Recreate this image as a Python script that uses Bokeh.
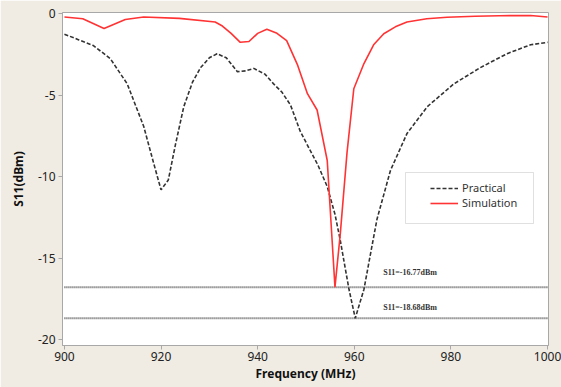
from bokeh.plotting import figure
from bokeh.models import (Legend, LegendItem, Range1d, FixedTicker, PrintfTickFormatter,
                          BoxAnnotation)
from bokeh.core.properties import value
from bokeh.embed import file_html
from bokeh.resources import INLINE

# Data
freq_practical = [900, 903, 906, 909.5, 913, 916.4, 918.5, 920, 921.5, 923, 924.7, 926.5,
                  928.2, 930, 931.6, 933.5, 935.8, 937.5, 939.2, 941.5, 943.3, 945, 946.8,
                  948.8, 950.9, 952.5, 954.4, 956, 957.1, 958.9, 960.2, 962, 963.5, 964.7,
                  967.5, 970.9, 975.1, 980.6, 986.1, 991.6, 996.5, 1000]
s11_practical = [-1.25, -1.6, -1.95, -2.75, -4.3, -6.9, -9.2, -10.8, -10.2, -8.0, -5.7, -4.2,
                 -3.3, -2.7, -2.45, -2.7, -3.55, -3.5, -3.35, -3.7, -4.3, -4.8, -5.6,
                 -7.2, -8.4, -9.3, -10.6, -12.3, -13.9, -16.9, -18.68, -16.9, -14.5, -12.6,
                 -9.6, -7.35, -5.7, -4.3, -3.3, -2.45, -1.9, -1.75]

freq_sim = [900, 903.8, 908.2, 912.6, 916.4, 923.8, 931.2, 932.7, 934.5, 936.4, 938.2, 940,
            941.9, 944, 946, 948.2, 950.3, 952.3, 954.4, 956, 957.1, 958.5, 959.9, 962, 964,
            966.1, 968.5, 970.9, 975, 979.2, 985, 990, 996.5, 1000]
s11_sim = [-0.2, -0.3, -0.9, -0.35, -0.2, -0.28, -0.5, -0.75, -1.2, -1.75, -1.7, -1.2,
           -0.95, -1.2, -1.65, -3.1, -4.9, -5.9, -9.0, -16.77, -13.5, -8.5, -4.6, -3.05, -1.9,
           -1.22, -0.8, -0.5, -0.3, -0.21, -0.15, -0.12, -0.1, -0.2]

min_levels = [-16.77, -18.68]
min_labels = ["S11=-16.77dBm", "S11=-18.68dBm"]
label_freq = [966, 966]
label_s11 = [-15.9, -18.0]

x_ticks = [900, 920, 940, 960, 980, 1000]
y_ticks = [0, -5, -10, -15, -20]

p = figure(width=561, height=387, output_backend="svg", toolbar_location=None,
           x_range=Range1d(899.6, 1000.2), y_range=Range1d(-20.35, 0.08),
           min_border_left=62, min_border_right=13, min_border_top=12, min_border_bottom=42)
p.background_fill_color = "white"
p.border_fill_color = "#f0ece3"
p.outline_line_color = "#a8a8a8"
p.grid.visible = False

font = "Noto Sans"
for ax in (p.xaxis[0], p.yaxis[0]):
    ax.axis_line_color = "#a8a8a8"
    ax.major_tick_line_color = "#a8a8a8"
    ax.major_tick_out = 4
    ax.major_tick_in = 0
    ax.minor_tick_line_color = None
    ax.major_label_text_font = font
    ax.major_label_text_font_size = "12px"
    ax.major_label_text_color = "#222222"
    ax.axis_label_text_font = font
    ax.axis_label_text_font_size = "12px"
    ax.axis_label_text_font_style = "bold"
    ax.axis_label_text_color = "#111111"
    ax.formatter = PrintfTickFormatter(format="%d")

p.xaxis.ticker = FixedTicker(ticks=x_ticks)
p.yaxis.ticker = FixedTicker(ticks=y_ticks)
p.xaxis.axis_label = "Frequency (MHz)"
p.yaxis.axis_label = "S11(dBm)"
p.xaxis.major_label_standoff = 2
p.yaxis.major_label_standoff = 3
p.xaxis.axis_label_standoff = 1
p.yaxis.axis_label_standoff = 8

# Minimum level dotted lines
for lvl in min_levels:
    p.line([x_ticks[0], x_ticks[-1]], [lvl, lvl], line_color="#555555", line_width=2,
           line_dash="1 1")

p.text(x=label_freq, y=label_s11, text=min_labels, text_font=value("Liberation Serif"),
       text_font_style="bold", text_font_size="8px", text_color="#333333",
       text_baseline="middle", text_align="left")

r_prac = p.line(freq_practical, s11_practical, line_color="#333333", line_width=1.6,
                line_dash="4 2")
r_sim = p.line(freq_sim, s11_sim, line_color="#ff3333", line_width=1.6)

# legend frame (screen units relative to the plot frame, y upward)
box = BoxAnnotation(left=343, right=471, top=173, bottom=122,
                    left_units="screen", right_units="screen",
                    top_units="screen", bottom_units="screen",
                    fill_color="white", fill_alpha=1,
                    line_color="#999999", line_width=1)
p.add_layout(box)

legend = Legend(items=[LegendItem(label="Practical", renderers=[r_prac]),
                       LegendItem(label="Simulation", renderers=[r_sim])],
                location=(368, 135))
legend.label_text_font = font
legend.label_text_font_size = "11px"
legend.label_text_color = "#333333"
legend.glyph_width = 28
legend.glyph_height = 14
legend.label_height = 14
legend.spacing = 0
legend.padding = 5
legend.margin = 0
legend.label_standoff = 4
legend.border_line_color = None
legend.background_fill_alpha = 0
p.add_layout(legend, "center")

open("out.html", "w").write(file_html(p, INLINE))
